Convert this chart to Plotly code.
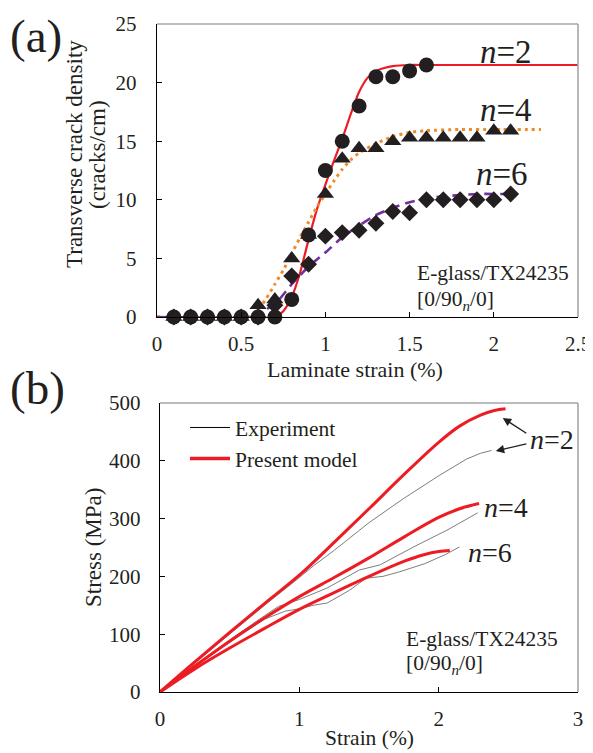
import plotly.graph_objects as go

# ---------------- (a) transverse crack density ----------------
strain_a = [0.1, 0.2, 0.3, 0.4, 0.5, 0.6, 0.7, 0.8, 0.9, 1.0, 1.1,
            1.2, 1.3, 1.4, 1.5, 1.6, 1.7, 1.8, 1.9, 2.0, 2.1]
crack_n2 = [0, 0, 0, 0, 0, 0, 0, 1.5, 7, 12.5, 15, 18, 20.5, 20.5, 21, 21.5]
crack_n4 = [0, 0, 0, 0, 0, 1, 1.5, 5, 7, 10.5, 13.5, 14.4, 14.4, 15, 15.3,
            15.3, 15.3, 15.3, 15.3, 15.9, 15.9]
crack_n6 = [0, 0, 0, 0, 0, 0, 1, 3.5, 4.5, 6.9, 7.2, 7.4, 8, 9, 8.9,
            10, 10, 10, 10, 10, 10.5]

model_x_n2 = [0, 0.7, 0.75, 0.8, 0.85, 0.9, 0.95, 1.0, 1.05, 1.1, 1.15, 1.2,
              1.25, 1.3, 1.35, 1.4, 1.5, 1.6, 1.8, 2.0, 2.25, 2.5]
model_y_n2 = [0, 0, 0.5, 1.7, 3.8, 6.6, 9.2, 11.3, 13.3, 15.2, 17.3, 19.2,
              20.4, 21.0, 21.25, 21.4, 21.5, 21.5, 21.5, 21.5, 21.5, 21.5]
model_x_n4 = [0, 0.55, 0.6, 0.65, 0.7, 0.75, 0.8, 0.85, 0.9, 0.95, 1.0, 1.05,
              1.1, 1.15, 1.2, 1.3, 1.4, 1.5, 1.6, 1.8, 2.0, 2.28]
model_y_n4 = [0, 0, 0.6, 1.6, 2.8, 4.0, 5.4, 6.8, 8.1, 9.4, 10.5, 11.6,
              12.6, 13.4, 14.0, 14.8, 15.4, 15.75, 15.9, 16.0, 16.0, 16.0]
model_x_n6 = [0, 0.55, 0.6, 0.7, 0.8, 0.9, 1.0, 1.1, 1.2, 1.3, 1.4, 1.5,
              1.6, 1.7, 1.8, 1.9, 2.0, 2.1]
model_y_n6 = [0, 0, 0.3, 1.1, 2.8, 4.3, 5.5, 6.8, 7.8, 8.7, 9.3, 9.8,
              10.1, 10.3, 10.4, 10.5, 10.5, 10.5]

xticks_a = [0, 0.5, 1, 1.5, 2, 2.5]
xticklabels_a = ["0", "0.5", "1", "1.5", "2", "2.5"]
yticks_a = [0, 5, 10, 15, 20, 25]

# ---------------- (b) stress-strain ----------------
exp_x_n2 = [0, 0.25, 0.5, 0.75, 1.0, 1.1, 1.25, 1.5, 1.75, 2.0, 2.2, 2.3, 2.38]
exp_y_n2 = [0, 50, 100, 150, 198, 218, 245, 293, 335, 374, 403, 413, 418]
exp_x_n4 = [0, 0.25, 0.5, 0.75, 0.85, 1.0, 1.2, 1.43, 1.58, 1.82, 2.06, 2.28]
exp_y_n4 = [0, 45, 90, 132, 148, 160, 180, 211, 220, 251, 280, 310]
exp_x_n6 = [0, 0.25, 0.5, 0.75, 0.9, 1.0, 1.1, 1.2, 1.36, 1.48, 1.6, 1.72,
            1.9, 2.05, 2.15]
exp_y_n6 = [0, 44, 86, 126, 140, 144, 150, 154, 176, 197, 200, 208,
            222, 238, 251]

mod_x_n2 = [0, 0.25, 0.5, 0.75, 1.0, 1.25, 1.5, 1.75, 2.0, 2.15, 2.3, 2.4, 2.48]
mod_y_n2 = [0, 52, 103, 153, 202, 259, 317, 376, 432, 460, 479, 487, 490]
mod_x_n4 = [0, 0.25, 0.5, 0.75, 1.0, 1.25, 1.5, 1.75, 2.0, 2.15, 2.29]
mod_y_n4 = [0, 45, 88, 128, 165, 198, 232, 268, 302, 317, 326]
mod_x_n6 = [0, 0.25, 0.5, 0.75, 1.0, 1.25, 1.5, 1.75, 1.9, 2.0, 2.08]
mod_y_n6 = [0, 40, 76, 110, 143, 172, 200, 226, 238, 243, 245]

xticks_b = [0, 1, 2, 3]
yticks_b = [0, 100, 200, 300, 400, 500]

FONT = "Liberation Serif, Times New Roman, serif"
INK = "#231F20"
RED = "#ED1C24"
ORANGE = "#F08A24"
PURPLE = "#7030A0"
EXPC = "#6E6E6E"

# page has an 8px body margin; figure sized to fit the 593x753 window
OFF = 8
W, H = 593 - OFF, 753 - OFF


def px(x):
    return (x - OFF) / W


def py(y):
    return 1 - (y - OFF) / H


fig = go.Figure()

# model curves (a)
fig.add_trace(go.Scatter(x=model_x_n2, y=model_y_n2, mode="lines",
                         line=dict(color=RED, width=2.2, shape="spline", smoothing=0.6),
                         xaxis="x", yaxis="y", showlegend=False))
fig.add_trace(go.Scatter(x=model_x_n4, y=model_y_n4, mode="lines",
                         line=dict(color=ORANGE, width=3, dash="3px,4px", shape="spline", smoothing=0.6),
                         xaxis="x", yaxis="y", showlegend=False))
fig.add_trace(go.Scatter(x=model_x_n6, y=model_y_n6, mode="lines",
                         line=dict(color=PURPLE, width=2.6, dash="10px,6px", shape="spline", smoothing=0.6),
                         xaxis="x", yaxis="y", showlegend=False))
# markers (a)
fig.add_trace(go.Scatter(x=strain_a[:len(crack_n2)], y=crack_n2, mode="markers",
                         marker=dict(symbol="circle", size=15, color=INK),
                         cliponaxis=False, xaxis="x", yaxis="y", showlegend=False))
fig.add_trace(go.Scatter(x=strain_a, y=crack_n4, mode="markers",
                         marker=dict(symbol="triangle-up", size=15, color=INK),
                         cliponaxis=False, xaxis="x", yaxis="y", showlegend=False))
fig.add_trace(go.Scatter(x=strain_a, y=crack_n6, mode="markers",
                         marker=dict(symbol="diamond", size=13, color=INK),
                         cliponaxis=False, xaxis="x", yaxis="y", showlegend=False))

# (b) experiment lines
for xs, ys in [(exp_x_n2, exp_y_n2), (exp_x_n4, exp_y_n4), (exp_x_n6, exp_y_n6)]:
    fig.add_trace(go.Scatter(x=xs, y=ys, mode="lines",
                             line=dict(color=EXPC, width=0.9),
                             xaxis="x2", yaxis="y2", showlegend=False,
                             legendgroup="exp"))
for xs, ys in [(mod_x_n2, mod_y_n2), (mod_x_n4, mod_y_n4), (mod_x_n6, mod_y_n6)]:
    fig.add_trace(go.Scatter(x=xs, y=ys, mode="lines",
                             line=dict(color=RED, width=3, shape="spline", smoothing=1.0),
                             xaxis="x2", yaxis="y2", showlegend=False,
                             legendgroup="mod"))
# legend entries
fig.add_trace(go.Scatter(x=[None], y=[None], mode="lines", name="Experiment",
                         line=dict(color="black", width=1), xaxis="x2", yaxis="y2",
                         legendgroup="exp"))
fig.add_trace(go.Scatter(x=[None], y=[None], mode="lines", name="Present model",
                         line=dict(color=RED, width=3.5), xaxis="x2", yaxis="y2",
                         legendgroup="mod"))

axis_common = dict(showline=True, linecolor="black", linewidth=1.4,
                   ticks="inside", ticklen=5, tickcolor="black", tickwidth=1,
                   showgrid=False, zeroline=False, automargin=False,
                   ticklabeloverflow="allow",
                   tickfont=dict(family=FONT, size=21, color=INK))

fig.update_layout(
    width=W, height=H,
    margin=dict(l=0, r=0, t=0, b=0),
    paper_bgcolor="white", plot_bgcolor="white",
    font=dict(family=FONT, color=INK),
    xaxis=dict(domain=[px(157), px(578)], anchor="y", range=[0, 2.5],
               tickvals=xticks_a, ticktext=xticklabels_a, ticklabelstandoff=8,
               **axis_common),
    yaxis=dict(domain=[py(317), py(24)], anchor="x", range=[0, 25],
               tickvals=yticks_a, ticklabelstandoff=15, **axis_common),
    xaxis2=dict(domain=[px(160), px(578)], anchor="y2", range=[0, 3],
                tickvals=xticks_b, ticklabelstandoff=8, **axis_common),
    yaxis2=dict(domain=[py(692), py(403)], anchor="x2", range=[0, 500],
                tickvals=yticks_b, ticklabelstandoff=14, **axis_common),
    legend=dict(x=px(185), y=py(407), xanchor="left", yanchor="top",
                bgcolor="rgba(0,0,0,0)", font=dict(family=FONT, size=21.5, color=INK),
                tracegroupgap=0, itemwidth=40),
)

GRAY = "#A6A6A6"
shapes = []
for xr, yr in [("x domain", "y domain"), ("x2 domain", "y2 domain")]:
    shapes.append(dict(type="line", xref=xr, yref=yr, x0=0, x1=1, y0=1, y1=1,
                       line=dict(color=GRAY, width=1.6)))
    shapes.append(dict(type="line", xref=xr, yref=yr, x0=1, x1=1, y0=0, y1=1,
                       line=dict(color=GRAY, width=1.6)))
fig.update_layout(shapes=shapes)

ann = []


def txt(text, x, y, size=20, xanchor="center", yanchor="middle", angle=0,
        xref="paper", yref="paper"):
    ann.append(dict(text=text, x=x, y=y, xref=xref, yref=yref, showarrow=False,
                    xanchor=xanchor, yanchor=yanchor, textangle=angle,
                    font=dict(family=FONT, size=size, color=INK)))


# panel labels
txt("(a)", px(36), py(36), size=47)
txt("(b)", px(37), py(388), size=47)
# axis titles
txt("Transverse crack density", px(74), py(154), size=23, angle=-90)
txt("(cracks/cm)", px(97), py(154), size=23, angle=-90)
txt("Laminate strain (%)", px(355), py(370), size=22)
txt("Stress (MPa)", px(93), py(548), size=23, angle=-90)
txt("Strain (%)", px(369), py(738), size=21.5)
# material info
txt("E-glass/TX24235", px(415), py(273), size=21.5, xanchor="left")
txt("[0/90<sub><i>n</i></sub>/0]", px(415), py(300), size=21.5, xanchor="left")
txt("E-glass/TX24235", px(404), py(639), size=21.5, xanchor="left")
txt("[0/90<sub><i>n</i></sub>/0]", px(404), py(664), size=21.5, xanchor="left")
# n labels (a)
txt("<i>n</i>=2", 2.07, 22.6, size=33, xref="x", yref="y")
txt("<i>n</i>=4", 2.07, 17.7, size=33, xref="x", yref="y")
txt("<i>n</i>=6", 2.05, 12.2, size=33, xref="x", yref="y")
# n labels (b)
txt("<i>n</i>=2", 2.81, 436, size=28, xref="x2", yref="y2")
txt("<i>n</i>=4", 2.48, 320, size=28, xref="x2", yref="y2")
txt("<i>n</i>=6", 2.37, 242, size=28, xref="x2", yref="y2")

# arrows for n=2 in (b)
for hx, hy, tx, ty in [(2.46, 474, 2.64, 446), (2.41, 417, 2.64, 430)]:
    ann.append(dict(x=hx, y=hy, ax=tx, ay=ty,
                    xref="x2", yref="y2", axref="x2", ayref="y2",
                    text="", showarrow=True, arrowhead=2, arrowsize=1.2,
                    arrowwidth=1.4, arrowcolor=INK))

fig.update_layout(annotations=ann)
fig.write_html("out.html")
